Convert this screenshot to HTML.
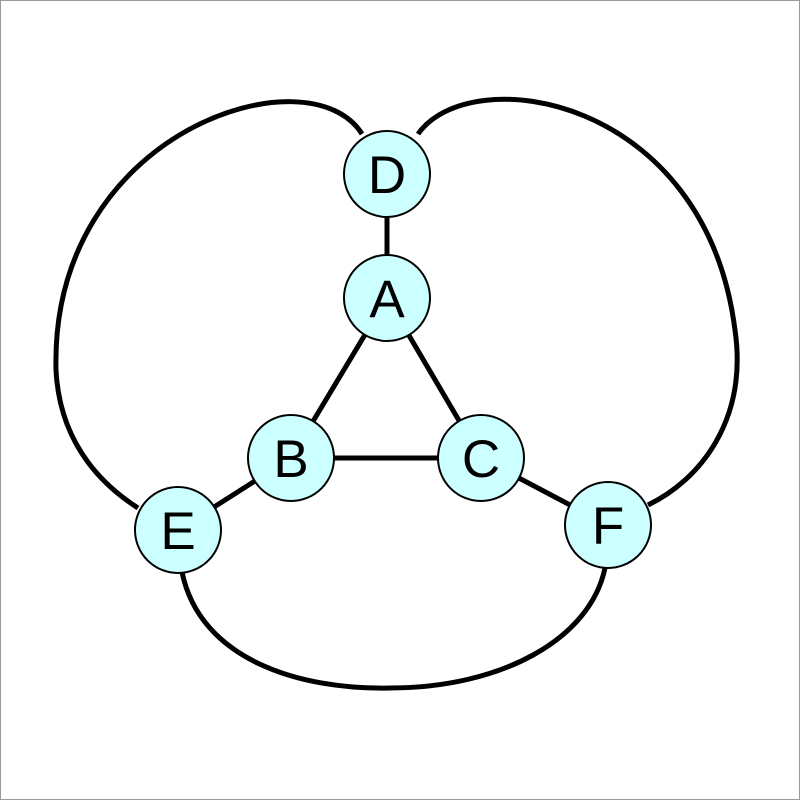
<!DOCTYPE html>
<html><head><meta charset="utf-8"><style>
html,body{margin:0;padding:0;background:#fff}
svg{display:block}
</style></head><body>
<svg id="chart" width="800" height="800" viewBox="0 0 800 800" xmlns="http://www.w3.org/2000/svg">
<rect x="0.5" y="0.5" width="799" height="799" fill="#fff" stroke="#999" stroke-width="1"/>
<g id="edges" fill="none" stroke="#000" stroke-width="5"></g>
<g id="nodes"></g>
</svg>
<script>
const nodeLabels = ["D","A","B","C","E","F"];
const nodeX = [387,387,291,481,178,608];
const nodeY = [174,298,458,458,530,525];
const straightEdges = [["D","A"],["A","B"],["A","C"],["B","C"],["B","E"],["C","F"]];
const curvedEdges = [
  "M 362 134 C 310 50 50 130 56 370 C 60 450 110 490 138 508",
  "M 418 134 C 470 60 705 95 735 330 C 748 420 700 480 648 505",
  "M 182 572 C 200 660 300 690 390 688 C 500 688 590 640 605 568"
];
const NS = "http://www.w3.org/2000/svg";
const eg = document.getElementById("edges");
const ng = document.getElementById("nodes");
const idx = l => nodeLabels.indexOf(l);
straightEdges.forEach(([a,b]) => {
  const l = document.createElementNS(NS,"line");
  
  
  l.setAttribute("x1", nodeX[idx(a)]); l.setAttribute("y1", nodeY[idx(a)]);
  l.setAttribute("x2", nodeX[idx(b)]); l.setAttribute("y2", nodeY[idx(b)]);
  eg.appendChild(l);
});
curvedEdges.forEach((d,i) => {
  const p = document.createElementNS(NS,"path");
  
  
  p.setAttribute("d", d);
  eg.appendChild(p);
});
nodeLabels.forEach((lab,i) => {
  const g = document.createElementNS(NS,"g");
  
  
  const c = document.createElementNS(NS,"circle");
  c.setAttribute("cx", nodeX[i]); c.setAttribute("cy", nodeY[i]); c.setAttribute("r", 43);
  c.setAttribute("fill", "#ccffff"); c.setAttribute("stroke", "#000"); c.setAttribute("stroke-width", "2");
  g.appendChild(c);
  const t = document.createElementNS(NS,"text");
  
  
  t.setAttribute("x", nodeX[i]); t.setAttribute("y", nodeY[i] + 19);
  t.setAttribute("text-anchor", "middle");
  t.setAttribute("font-family", "Liberation Sans, sans-serif");
  t.setAttribute("font-size", "53");
  t.textContent = lab;
  g.appendChild(t);
  ng.appendChild(g);
});
</script>
</body></html>
